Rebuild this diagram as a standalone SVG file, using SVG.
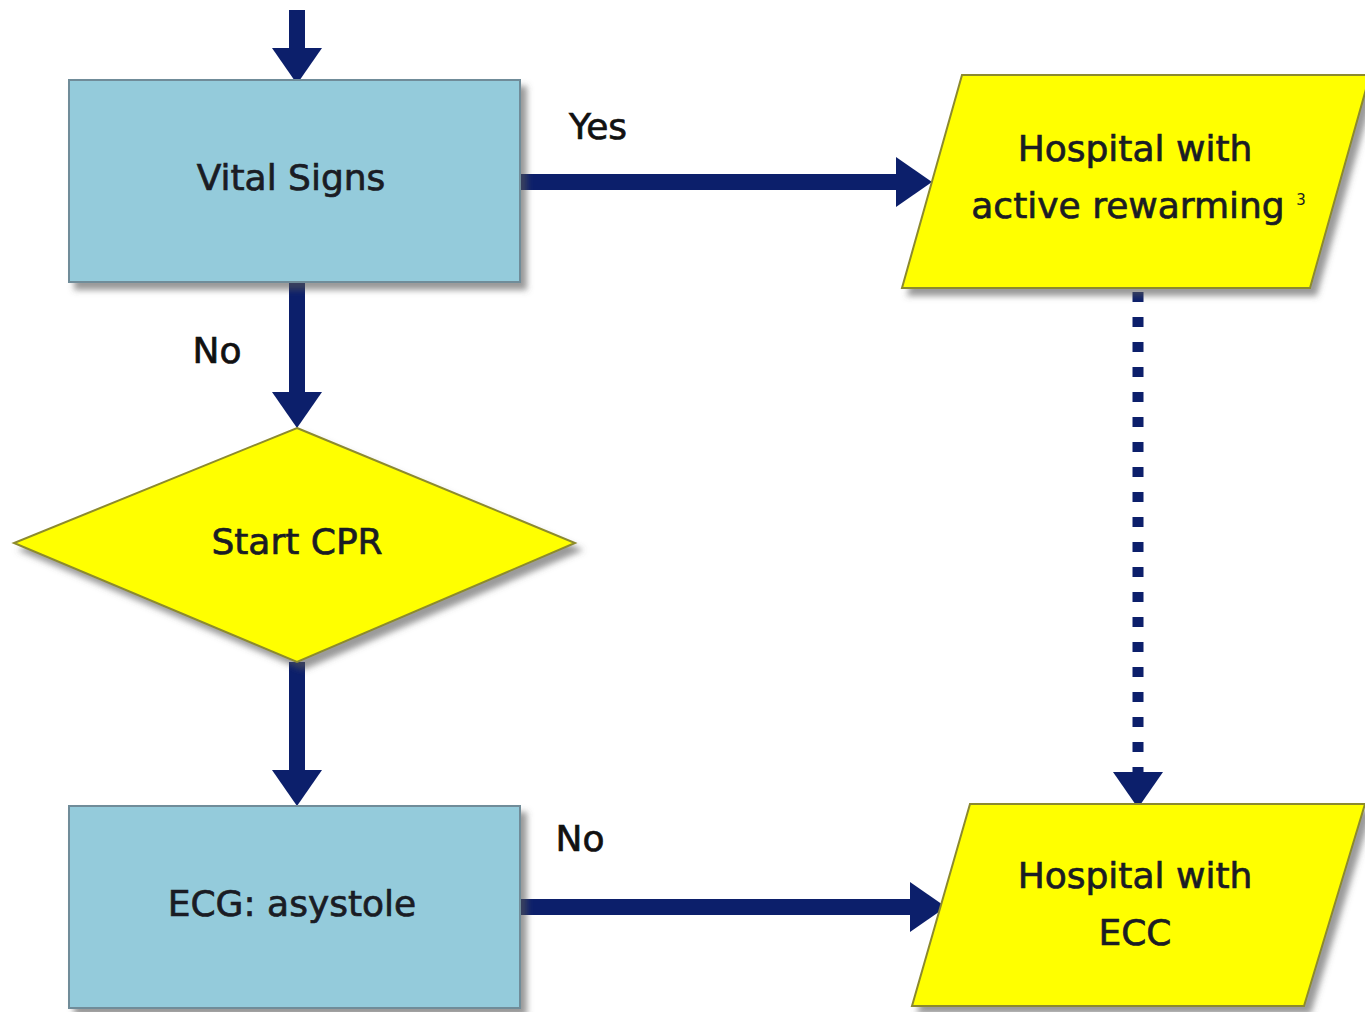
<svg xmlns="http://www.w3.org/2000/svg" width="1365" height="1012" viewBox="0 0 1365 1012">
<defs>
<filter id="sh" x="-10%" y="-10%" width="130%" height="130%">
<feDropShadow dx="6" dy="7" stdDeviation="3" flood-color="#555" flood-opacity="0.6"/>
</filter>
<marker id="ah" markerUnits="userSpaceOnUse" markerWidth="38" markerHeight="50" refX="12" refY="25" orient="auto" overflow="visible">
<path d="M0,0 L36,25 L0,50 Z" fill="#0c1f6b"/>
</marker>
<style>
.box{fill:#94cbdb;stroke:#6f8c99;stroke-width:2;filter:url(#sh)}
.yel{fill:#ffff00;stroke:#8c8a2e;stroke-width:2;filter:url(#sh)}
.t{font-family:"DejaVu Sans","Noto Sans",sans-serif;font-size:36px;fill:#1a1c24;stroke:#1a1c24;stroke-width:0.7px;text-anchor:middle}
.lbl{font-family:"DejaVu Sans","Noto Sans",sans-serif;font-size:36px;fill:#111;stroke:#111;stroke-width:0.7px;text-anchor:middle}
.sup{font-family:"DejaVu Sans","Noto Sans",sans-serif;font-size:15px;fill:#1a1c24;text-anchor:middle}
.c{stroke:#0c1f6b;stroke-width:16;fill:none}
.d{stroke:#0c1f6b;stroke-width:11;fill:none;stroke-dasharray:10 15}
</style>
</defs>
<rect width="1365" height="1012" fill="#ffffff"/>
<g id="connectors">
<line class="c" x1="297" y1="10" x2="297" y2="60" marker-end="url(#ah)"/>
<line class="c" x1="520" y1="182" x2="908" y2="182" marker-end="url(#ah)"/>
<line class="c" x1="297" y1="282" x2="297" y2="404" marker-end="url(#ah)"/>
<line class="c" x1="297" y1="662" x2="297" y2="782" marker-end="url(#ah)"/>
<line class="c" x1="520" y1="907" x2="922" y2="907" marker-end="url(#ah)"/>
<line class="d" x1="1138" y1="292" x2="1138" y2="784" marker-end="url(#ah)"/>
</g>
<g id="n-vital">
<rect class="box" x="69" y="80" width="451" height="202"/>
<text class="t" x="291" y="190">Vital Signs</text>
</g>
<g id="n-rewarm">
<polygon class="yel" points="962,75 1370,75 1310,288 902,288"/>
<text class="t" x="1135" y="161">Hospital with</text>
<text class="t" x="1128" y="218">active rewarming</text>
<text class="sup" x="1301" y="205">3</text>
</g>
<g id="n-cpr">
<polygon class="yel" points="297,428 575,543 297,662 14,543"/>
<text class="t" x="297" y="554">Start CPR</text>
</g>
<g id="n-ecg">
<rect class="box" x="69" y="806" width="451" height="202"/>
<text class="t" x="292" y="916">ECG: asystole</text>
</g>
<g id="n-ecc">
<polygon class="yel" points="970,804 1365,804 1304,1006 912,1006"/>
<text class="t" x="1135" y="888">Hospital with</text>
<text class="t" x="1135" y="945">ECC</text>
</g>
<g id="labels">
<text class="lbl" x="598" y="139">Yes</text>
<text class="lbl" x="217" y="363">No</text>
<text class="lbl" x="580" y="851">No</text>
</g>
</svg>
